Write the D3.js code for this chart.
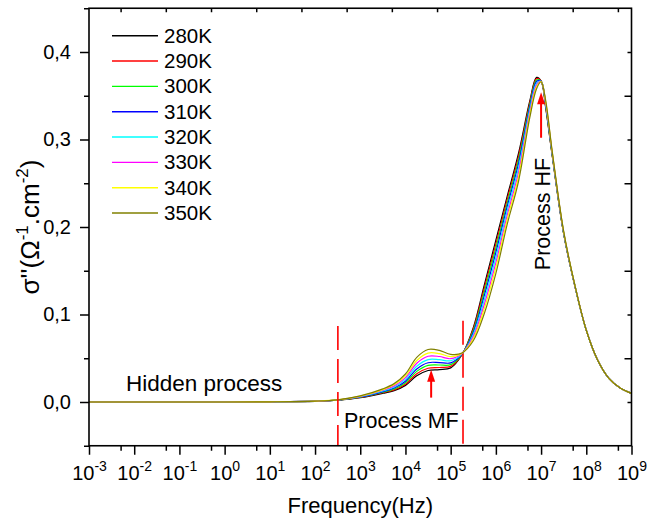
<!DOCTYPE html>
<html><head><meta charset="utf-8">
<script src="https://cdn.jsdelivr.net/npm/d3@7"></script>
<style>
html,body{margin:0;padding:0;background:#fff;}
svg text{font-family:Arial,"Liberation Sans",sans-serif;fill:#000;}
</style>
</head><body>
<svg id="chart" width="660" height="523"></svg>
<script>
// ---- data ----
const freqExp = [-3,-2,-1,0,1,2,2.5,3,3.5,3.75,4,4.25,4.5,4.75,5,5.25,5.5,5.75,6,6.25,6.5,6.75,6.9,7,7.1,7.25,7.5,7.75,8,8.25,8.5,8.75,9];
const seriesNames = ["280K","290K","300K","310K","320K","330K","340K","350K"];
const seriesColors = ["#000000","#ff0000","#00ff00","#0000ff","#00ffff","#ff00ff","#ffff00","#808000"];
const s280 = [0,0,0,0,0.0002,0.0008,0.002,0.005,0.010,0.013,0.019,0.030,0.036,0.037,0.039,0.054,0.085,0.135,0.185,0.235,0.284,0.344,0.371,0.367,0.337,0.280,0.192,0.132,0.082,0.048,0.027,0.016,0.0099];
const s290 = [0,0,0,0,0.0002,0.0009,0.0021,0.0052,0.0106,0.0139,0.0204,0.0323,0.0386,0.0394,0.0407,0.0542,0.0834,0.1314,0.1808,0.2315,0.2805,0.3419,0.3696,0.3669,0.3379,0.2806,0.1923,0.132,0.082,0.048,0.027,0.016,0.0099];
const s300 = [0,0,0,0,0.0002,0.0009,0.0021,0.0055,0.0112,0.0149,0.0221,0.0350,0.0418,0.0423,0.0427,0.0545,0.0814,0.1271,0.1759,0.2273,0.2763,0.3394,0.3679,0.3668,0.3389,0.2812,0.1927,0.1322,0.082,0.048,0.027,0.016,0.0099];
const s310 = [0,0,0,0,0.0002,0.0009,0.0022,0.0057,0.0119,0.0160,0.0238,0.0378,0.0449,0.0451,0.0447,0.0547,0.0795,0.1228,0.1709,0.2232,0.2722,0.3370,0.3662,0.3666,0.3400,0.2819,0.1931,0.1324,0.082,0.048,0.027,0.016,0.0099];
const s320 = [0,0,0,0,0.0002,0.0009,0.0023,0.0060,0.0126,0.0172,0.0258,0.0409,0.0485,0.0484,0.0471,0.0550,0.0772,0.1178,0.1652,0.2184,0.2674,0.3341,0.3642,0.3665,0.3412,0.2826,0.1936,0.1326,0.082,0.048,0.027,0.016,0.0099];
const s330 = [0,0,0,0,0.0002,0.0009,0.0023,0.0064,0.0134,0.0184,0.0278,0.0443,0.0523,0.0520,0.0495,0.0554,0.0748,0.1126,0.1592,0.2132,0.2622,0.3311,0.3622,0.3663,0.3424,0.2834,0.1940,0.1328,0.082,0.048,0.027,0.016,0.0099];
const s340 = [0,0,0,0,0.0002,0.0010,0.0024,0.0067,0.0142,0.0196,0.0298,0.0474,0.0559,0.0553,0.0519,0.0557,0.0726,0.1076,0.1535,0.2084,0.2574,0.3282,0.3602,0.3662,0.3436,0.2842,0.1945,0.1330,0.082,0.048,0.027,0.016,0.0099];
const s350 = [0,0,0,0,0.0002,0.0010,0.0025,0.0070,0.0150,0.0210,0.0320,0.0510,0.0600,0.0590,0.0545,0.0560,0.0700,0.1020,0.1470,0.2030,0.2520,0.3250,0.3580,0.3660,0.3450,0.2850,0.1950,0.1330,0.082,0.048,0.027,0.016,0.0099];
const seriesValues = [s280,s290,s300,s310,s320,s330,s340,s350];
const xMajorExp = [-3,-2,-1,0,1,2,3,4,5,6,7,8,9];
const yMajor = [0,0.1,0.2,0.3,0.4];
const yMinor = [-0.05,0.05,0.15,0.25,0.35,0.45];
// annotations
const markerFreqs = [320, 1.875e5];        // dashed red lines
const markerTops = [0.087, 0.093];
const arrowMF = {f: 3.7e4, from: 0.005, to: 0.037};
const arrowHF = {f: 1.0e7, from: 0.302, to: 0.354};

// ---- layout ----
const L = 89, R = 631.5, T = 8.25, B = 445.75;
const svg = d3.select("#chart");
svg.append("rect").attr("width",660).attr("height",523).attr("fill","#fff");

const x = d3.scaleLog().domain([1e-3,1e9]).range([L,R]);
const y = d3.scaleLinear().domain([-0.05,0.45]).range([B,T]);

const xMajor = xMajorExp.map(e => Math.pow(10,e));
const xMinor = xMajorExp.slice(0,-1).map(e => 5*Math.pow(10,e));

const plot = svg.append("g");
plot.append("defs").append("clipPath").attr("id","clip")
  .append("rect").attr("x",L).attr("y",T).attr("width",R-L).attr("height",B-T);

// curves
const line = d3.line()
  .x((d,i) => x(Math.pow(10,freqExp[i])))
  .y(d => y(d))
  .curve(d3.curveCatmullRom.alpha(0.5));
const curves = plot.append("g").attr("clip-path","url(#clip)");
seriesValues.forEach((vals,k) => {
  curves.append("path").datum(vals)
    .attr("d",line).attr("fill","none")
    .attr("stroke",seriesColors[k]).attr("stroke-width",1.2);
});

// dashed markers
markerFreqs.forEach((f,i) => {
  plot.append("line")
    .attr("x1",x(f)).attr("x2",x(f))
    .attr("y1",y(markerTops[i])).attr("y2",B)
    .attr("stroke","#ff0000").attr("stroke-width",1.6)
    .attr("stroke-dasharray","24,9");
});

// arrows
function arrow(a){
  const xx = x(a.f), y1 = y(a.from), y2 = y(a.to);
  plot.append("line").attr("x1",xx).attr("x2",xx).attr("y1",y1).attr("y2",y2+10)
    .attr("stroke","#ff0000").attr("stroke-width",2);
  plot.append("path")
    .attr("d",`M${xx},${y2} L${xx-4},${y2+12} L${xx+4},${y2+12} Z`)
    .attr("fill","#ff0000");
}
arrow(arrowMF); arrow(arrowHF);

// axes
const tickStyle = g => { g.selectAll(".tick line").attr("stroke","#000").attr("stroke-width",1.5); g.select(".domain").remove(); };

const xAxis = svg.append("g").attr("transform",`translate(0,${B})`)
  .call(d3.axisBottom(x).tickValues(xMajor).tickSize(9).tickFormat(""));
xAxis.call(tickStyle);
xAxis.selectAll(".tick").each(function(d,i){
  const t = d3.select(this).append("text")
    .attr("y",34).attr("text-anchor","middle").attr("font-size",20).attr("fill","#000");
  t.append("tspan").text("10");
  t.append("tspan").attr("dy",-9).attr("font-size",14).text(String(xMajorExp[i]));
});
svg.append("g").attr("transform",`translate(0,${B})`)
  .call(d3.axisBottom(x).tickValues(xMinor).tickSize(5).tickFormat("")).call(tickStyle);
// top (inward)
svg.append("g").attr("transform",`translate(0,${T})`)
  .call(d3.axisBottom(x).tickValues(xMinor).tickSize(4).tickFormat("")).call(tickStyle);

const yAxis = svg.append("g").attr("transform",`translate(${L},0)`)
  .call(d3.axisLeft(y).tickValues(yMajor).tickSize(9).tickPadding(9)
    .tickFormat(d => d3.format(".1f")(d).replace(".",",")));
yAxis.call(tickStyle);
yAxis.selectAll("text").attr("font-size",20).attr("font-family","Arial, 'Liberation Sans', sans-serif").attr("fill","#000");
svg.append("g").attr("transform",`translate(${L},0)`)
  .call(d3.axisLeft(y).tickValues(yMinor).tickSize(5).tickFormat("")).call(tickStyle);
// right (inward)
svg.append("g").attr("transform",`translate(${R},0)`)
  .call(d3.axisLeft(y).tickValues(yMinor.filter(v=>v>-0.01 && v<0.44)).tickSize(7).tickFormat("")).call(tickStyle);
svg.append("g").attr("transform",`translate(${R},0)`)
  .call(d3.axisLeft(y).tickValues(yMajor).tickSize(4).tickFormat("")).call(tickStyle);

// frame
svg.append("rect").attr("x",L).attr("y",T).attr("width",R-L).attr("height",B-T)
  .attr("fill","none").attr("stroke","#000").attr("stroke-width",1.6);

// axis titles
svg.append("text").attr("x",(L+R)/2).attr("y",513).attr("text-anchor","middle")
  .attr("font-size",22).text("Frequency(Hz)");
const yt = svg.append("text").attr("transform",`translate(39,${(T+B)/2}) rotate(-90)`)
  .attr("text-anchor","middle").attr("font-size",26);
yt.append("tspan").text("σ''(Ω");
yt.append("tspan").attr("dy",-11).attr("font-size",17).text("-1");
yt.append("tspan").attr("dy",11).text(".cm");
yt.append("tspan").attr("dy",-11).attr("font-size",17).text("-2");
yt.append("tspan").attr("dy",11).text(")");

// annotations text
svg.append("text").attr("x",126).attr("y",391).attr("font-size",22.5).text("Hidden process");
svg.append("text").attr("x",344).attr("y",428).attr("font-size",21.5).text("Process MF");
svg.append("text").attr("transform",`translate(550,214) rotate(-90)`).attr("text-anchor","middle")
  .attr("font-size",21.5).text("Process HF");

// legend
const lg = svg.append("g");
seriesNames.forEach((n,k) => {
  const yy = 35.7 + k*25.33;
  lg.append("line").attr("x1",112).attr("x2",158).attr("y1",yy).attr("y2",yy)
    .attr("stroke",seriesColors[k]).attr("stroke-width",1.4);
  lg.append("text").attr("x",164).attr("y",yy+7).attr("font-size",20.5).text(n);
});
</script>
</body></html>
